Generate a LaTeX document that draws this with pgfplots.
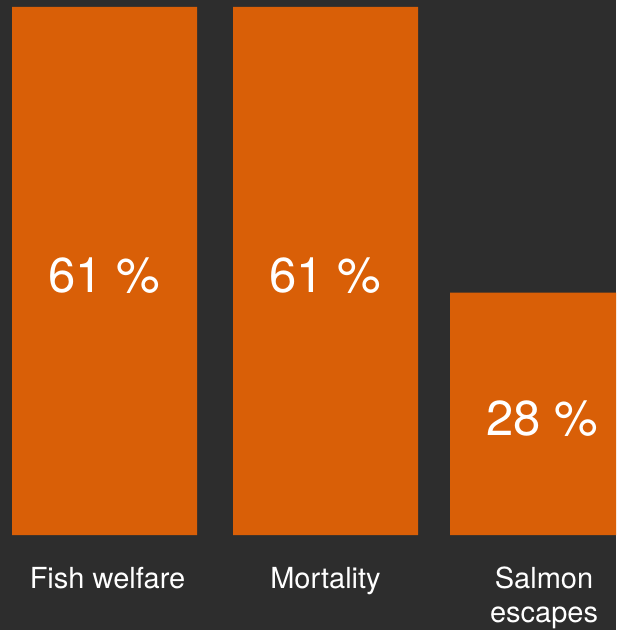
\documentclass[border=0pt]{standalone}
\usepackage{fontspec}
\setmainfont{TeX Gyre Heros}
\usepackage{pgfplots}
\usepackage{pgfplotstable}
\pgfplotsset{compat=1.18}
\definecolor{bg}{HTML}{2D2D2D}
\definecolor{barc}{HTML}{D95F07}
\pgfplotstableread{
x v
104.5 61
325.5 61
542.5 28
}\data
\begin{document}
\begin{tikzpicture}
\begin{axis}[name=ax, scale only axis, width=616pt, height=630pt,
  xmin=0, xmax=616, ymin=-10.975, ymax=61.809,
  axis background/.style={fill=bg},
  axis line style={draw=none}, tick style={draw=none},
  ytick=\empty,
  xtick={107.5,325.5,544},
  xticklabels={Fish welfare, Mortality, {\begin{tabular}[t]{@{}c@{}}Salmon\\escapes\end{tabular}}},
  xticklabel style={font=\fontsize{29}{33}\selectfont, text=white, anchor=base, yshift=41pt},
  /pgf/number format/assume math mode=true,
]
\addplot[ybar, bar width=185, fill=barc, draw=none] table[x=x,y=v]{\data};
\addplot[draw=none, mark=none, nodes near coords={\pgfmathprintnumber{\pgfplotspointmeta} \%},
  nodes near coords style={anchor=center, text=white, font=\fontsize{49}{52}\selectfont, yshift=-5pt},
  point meta=explicit] table[x=x, y expr=\thisrow{v}/2, meta=v]{\data};
\end{axis}
\pgfresetboundingbox
\path[use as bounding box] (ax.south west) rectangle (ax.north east);
\end{tikzpicture}
\end{document}
